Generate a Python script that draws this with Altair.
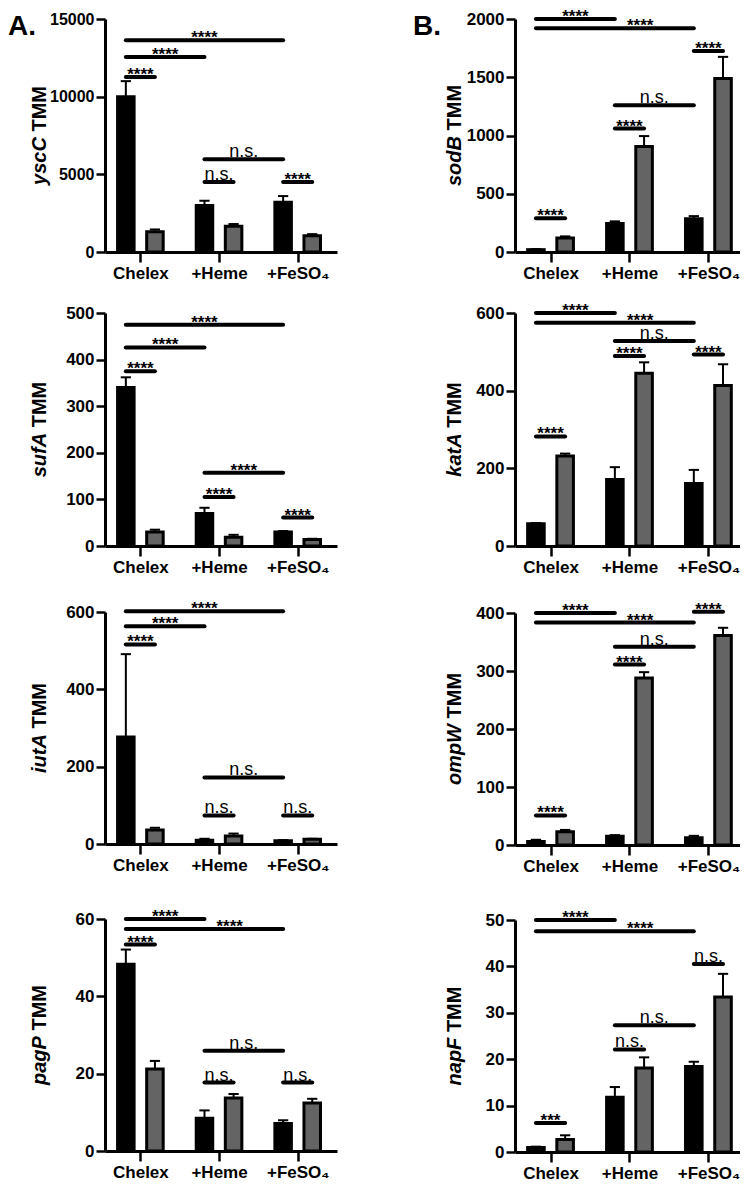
import json
import altair as alt
import pandas as pd

# ---------------- data ----------------
categories = ["Chelex", "+Heme", "+FeSO\u2084"]
bar_series = ["black", "gray"]

yscC_black = [10000, 3000, 3200]
yscC_black_err = [1000, 300, 400]
yscC_gray = [1300, 1650, 1050]
yscC_gray_err = [150, 150, 100]
yscC_sig_pairs = [(0, 0, 0, 1), (0, 0, 1, 0), (0, 0, 2, 0), (1, 0, 1, 1), (1, 0, 2, 0), (2, 0, 2, 1)]
yscC_sig_y = [11260, 12560, 13630, 4500, 5970, 4500]
yscC_sig_text = ["****", "****", "****", "n.s.", "n.s.", "****"]

sodB_black = [20, 245, 285]
sodB_black_err = [5, 18, 23]
sodB_gray = [120, 905, 1490]
sodB_gray_err = [14, 90, 185]
sodB_sig_pairs = [(0, 0, 0, 1), (1, 0, 1, 1), (1, 0, 2, 0), (2, 0, 2, 1), (0, 0, 1, 0), (0, 0, 2, 0)]
sodB_sig_y = [290, 1060, 1260, 1725, 2000, 1920]
sodB_sig_text = ["****", "****", "n.s.", "****", "****", "****"]

sufA_black = [340, 70, 30]
sufA_black_err = [22, 12, 2]
sufA_gray = [30, 19, 14]
sufA_gray_err = [5, 5, 1.5]
sufA_sig_pairs = [(0, 0, 0, 1), (0, 0, 1, 0), (0, 0, 2, 0), (1, 0, 1, 1), (1, 0, 2, 0), (2, 0, 2, 1)]
sufA_sig_y = [375, 426, 475, 105, 157, 61]
sufA_sig_text = ["****", "****", "****", "****", "****", "****"]

katA_black = [57, 171, 161]
katA_black_err = [2, 32, 35]
katA_gray = [232, 445, 413]
katA_gray_err = [6, 28, 55]
katA_sig_pairs = [(0, 0, 0, 1), (1, 0, 1, 1), (2, 0, 2, 1), (1, 0, 2, 0), (0, 0, 1, 0), (0, 0, 2, 0)]
katA_sig_y = [282, 489, 493, 528, 600, 575]
katA_sig_text = ["****", "****", "****", "n.s.", "****", "****"]

iutA_black = [277, 10, 8.5]
iutA_black_err = [214, 3.5, 1.5]
iutA_gray = [36.5, 21, 12]
iutA_gray_err = [5.5, 6, 1.5]
iutA_sig_pairs = [(0, 0, 0, 1), (0, 0, 1, 0), (0, 0, 2, 0), (1, 0, 1, 1), (1, 0, 2, 0), (2, 0, 2, 1)]
iutA_sig_y = [516, 563, 602, 74, 172, 74]
iutA_sig_text = ["****", "****", "****", "n.s.", "n.s.", "n.s."]

ompW_black = [6, 15, 12.5]
ompW_black_err = [3, 2, 3.3]
ompW_gray = [23, 288, 361]
ompW_gray_err = [3, 10, 13.5]
ompW_sig_pairs = [(0, 0, 0, 1), (1, 0, 1, 1), (1, 0, 2, 0), (2, 0, 2, 1), (0, 0, 1, 0), (0, 0, 2, 0)]
ompW_sig_y = [51, 311, 342, 402, 400, 383.5]
ompW_sig_text = ["****", "****", "n.s.", "****", "****", "****"]

pagP_black = [48.3, 8.5, 7.1]
pagP_black_err = [3.8, 2.0, 0.85]
pagP_gray = [21.2, 13.7, 12.4]
pagP_gray_err = [2.1, 1.05, 1.1]
pagP_sig_pairs = [(0, 0, 0, 1), (0, 0, 1, 0), (0, 0, 2, 0), (1, 0, 1, 1), (1, 0, 2, 0), (2, 0, 2, 1)]
pagP_sig_y = [53.4, 60, 57.4, 17.7, 25.9, 17.7]
pagP_sig_text = ["****", "****", "****", "n.s.", "n.s.", "n.s."]

napF_black = [0.95, 11.8, 18.4]
napF_black_err = [0.2, 2.2, 1.05]
napF_gray = [2.7, 18.1, 33.4]
napF_gray_err = [0.9, 2.3, 5.0]
napF_sig_pairs = [(0, 0, 0, 1), (0, 0, 1, 0), (0, 0, 2, 0), (1, 0, 1, 1), (1, 0, 2, 0), (2, 0, 2, 1)]
napF_sig_y = [6.25, 50, 47.6, 22.1, 27.3, 40.5]
napF_sig_text = ["***", "****", "****", "n.s.", "n.s.", "n.s."]

yscC_ticks = [0, 5000, 10000, 15000]
sodB_ticks = [0, 500, 1000, 1500, 2000]
sufA_ticks = [0, 100, 200, 300, 400, 500]
katA_ticks = [0, 200, 400, 600]
iutA_ticks = [0, 200, 400, 600]
ompW_ticks = [0, 100, 200, 300, 400]
pagP_ticks = [0, 20, 40, 60]
napF_ticks = [0, 10, 20, 30, 40, 50]

# ---------------- layout / style ----------------
FONT = "Liberation Sans"
BAR_OFF = [-0.185, 0.185]
BAR_HALF = 0.105
CAP_HALF = 0.065
X_MIN = -0.45
ROW_H = [233, 233, 232, 232]
GAP_12, GAP_34, OUTER_GAP = 61, 75, 25
LEFT_W, RIGHT_W = 232, 225
LEFT_XMAX, RIGHT_XMAX = 2.5, 2.4
SHIFTED_LONG_LABEL = {"sodB", "katA", "ompW", "pagP", "napF"}
LONG_SHIFT = 0.32
TITLE_FS = 20
BOLD_W = {'y': .556, 's': .556, 'c': .556, 'C': .722, 'o': .611, 'd': .611, 'B': .722,
          'u': .611, 'f': .333, 'A': .722, 'k': .556, 'a': .556, 't': .333, 'i': .278,
          'm': .889, 'p': .611, 'W': .944, 'g': .611, 'P': .667, 'n': .611, 'F': .611}
SPACE_W = 0.278 * TITLE_FS
TMM_W = 2.555 * TITLE_FS  # " TMM" including the word space

label_expr = json.dumps(categories) + "[datum.value]"


def panel(gene, black, black_err, gray, gray_err, pairs, sig_y, sig_text, ticks,
          width, height, xmax, title_dx, ylab_fs=17, letter=None):
    rows = []
    for g in range(3):
        for b, (vals, errs) in enumerate([(black, black_err), (gray, gray_err)]):
            pos = g + BAR_OFF[b]
            rows.append(dict(category=categories[g], series=bar_series[b], pos=pos,
                             left=pos - BAR_HALF, right=pos + BAR_HALF,
                             cap_l=pos - CAP_HALF, cap_r=pos + CAP_HALF,
                             value=vals[g], top=vals[g] + errs[g], base=0))
    bars = pd.DataFrame(rows)

    srows = []
    for (g1, b1, g2, b2), yv, lab in zip(pairs, sig_y, sig_text):
        x1 = g1 + BAR_OFF[b1]
        x2 = g2 + BAR_OFF[b2]
        tx = (x1 + x2) / 2
        if gene in SHIFTED_LONG_LABEL and (g1, b1, g2, b2) == (0, 0, 2, 0):
            tx += LONG_SHIFT
        srows.append(dict(x1=x1, x2=x2, tx=tx, y=yv, label=lab))
    sig = pd.DataFrame(srows)

    xs = alt.Scale(domain=[X_MIN, xmax], nice=False, zero=False)
    ys = alt.Scale(domain=[0, ticks[-1]], nice=False)
    xaxis = alt.Axis(values=[0, 1, 2], labelExpr=label_expr, title=None, grid=False,
                     domainWidth=3, domainColor="black", tickColor="black", tickWidth=2.5,
                     tickSize=10, labelFontSize=17, labelFontWeight="bold", labelColor="black",
                     labelPadding=3, labelFont=FONT, labelFlush=False)
    yaxis = alt.Axis(values=ticks, format="d", title=None, grid=False,
                     domainWidth=3, domainColor="black", tickColor="black", tickWidth=2.5,
                     tickSize=9, labelFontSize=ylab_fs, labelFontWeight="bold", labelColor="black",
                     labelPadding=2, labelFont=FONT)

    def X(f):
        return alt.X(f, type="quantitative", scale=xs, axis=xaxis)

    def Y(f):
        return alt.Y(f, type="quantitative", scale=ys, axis=yaxis)

    bar_layer = alt.Chart(bars).mark_rect(stroke="black", strokeWidth=3).encode(
        x=X("left"), x2=alt.X2("right"), y=Y("value"), y2=alt.Y2("base"),
        color=alt.Color("series:N", scale=alt.Scale(domain=bar_series, range=["#000000", "#646464"]),
                        legend=None))
    err_layer = alt.Chart(bars).mark_rule(color="black", strokeWidth=2).encode(
        x=X("pos"), y=Y("value"), y2=alt.Y2("top"))
    cap_layer = alt.Chart(bars).mark_rule(color="black", strokeWidth=2).encode(
        x=X("cap_l"), x2=alt.X2("cap_r"), y=Y("top"))
    line_layer = alt.Chart(sig).mark_rule(color="black", strokeWidth=4, strokeCap="round").encode(
        x=X("x1"), x2=alt.X2("x2"), y=Y("y"))
    star_layer = alt.Chart(sig).transform_filter("datum.label != 'n.s.'").mark_text(
        font=FONT, fontSize=17, fontWeight="bold", color="black", baseline="alphabetic", dy=3).encode(
        x=X("tx"), y=Y("y"), text="label:N")
    ns_layer = alt.Chart(sig).transform_filter("datum.label == 'n.s.'").mark_text(
        font=FONT, fontSize=18, color="black", baseline="alphabetic", dy=-2).encode(
        x=X("tx"), y=Y("y"), text="label:N")

    # rotated axis title: italic gene name + upright "TMM"
    wg = sum(BOLD_W.get(ch, 0.6) for ch in gene) * TITLE_FS
    junction = height / 2 - (wg - TMM_W) / 2
    t_gene = alt.Chart(pd.DataFrame({"t": [gene]})).mark_text(
        angle=270, align="right", baseline="middle", font=FONT, fontSize=TITLE_FS,
        fontWeight="bold", fontStyle="italic", color="black").encode(
        text="t:N", x=alt.value(title_dx), y=alt.value(junction))
    t_tmm = alt.Chart(pd.DataFrame({"t": ["TMM"]})).mark_text(
        angle=270, align="left", baseline="middle", font=FONT, fontSize=TITLE_FS,
        fontWeight="bold", color="black").encode(
        text="t:N", x=alt.value(title_dx), y=alt.value(junction - SPACE_W))

    layers = [bar_layer, err_layer, cap_layer, line_layer, star_layer, ns_layer, t_gene, t_tmm]
    if letter:
        lx = -97 if letter == "A." else -102
        layers.append(alt.Chart(pd.DataFrame({"t": [letter]})).mark_text(
            align="left", baseline="alphabetic", font=FONT, fontSize=28, fontWeight="bold",
            color="black").encode(text="t:N", x=alt.value(lx), y=alt.value(16)))
    return alt.layer(*layers).properties(width=width, height=height)


p_yscC = panel("yscC", yscC_black, yscC_black_err, yscC_gray, yscC_gray_err, yscC_sig_pairs,
               yscC_sig_y, yscC_sig_text, yscC_ticks, LEFT_W, ROW_H[0], LEFT_XMAX, -65, 16, "A.")
p_sufA = panel("sufA", sufA_black, sufA_black_err, sufA_gray, sufA_gray_err, sufA_sig_pairs,
               sufA_sig_y, sufA_sig_text, sufA_ticks, LEFT_W, ROW_H[1], LEFT_XMAX, -65)
p_iutA = panel("iutA", iutA_black, iutA_black_err, iutA_gray, iutA_gray_err, iutA_sig_pairs,
               iutA_sig_y, iutA_sig_text, iutA_ticks, LEFT_W, ROW_H[2], LEFT_XMAX, -65)
p_pagP = panel("pagP", pagP_black, pagP_black_err, pagP_gray, pagP_gray_err, pagP_sig_pairs,
               pagP_sig_y, pagP_sig_text, pagP_ticks, LEFT_W, ROW_H[3], LEFT_XMAX, -65)

p_sodB = panel("sodB", sodB_black, sodB_black_err, sodB_gray, sodB_gray_err, sodB_sig_pairs,
               sodB_sig_y, sodB_sig_text, sodB_ticks, RIGHT_W, ROW_H[0], RIGHT_XMAX, -60, 17, "B.")
p_katA = panel("katA", katA_black, katA_black_err, katA_gray, katA_gray_err, katA_sig_pairs,
               katA_sig_y, katA_sig_text, katA_ticks, RIGHT_W, ROW_H[1], RIGHT_XMAX, -60)
p_ompW = panel("ompW", ompW_black, ompW_black_err, ompW_gray, ompW_gray_err, ompW_sig_pairs,
               ompW_sig_y, ompW_sig_text, ompW_ticks, RIGHT_W, ROW_H[2], RIGHT_XMAX, -60)
p_napF = panel("napF", napF_black, napF_black_err, napF_gray, napF_gray_err, napF_sig_pairs,
               napF_sig_y, napF_sig_text, napF_ticks, RIGHT_W, ROW_H[3], RIGHT_XMAX, -60)


def column(a, b, c, d):
    top = alt.vconcat(a, b, spacing=GAP_12, bounds="flush")
    bottom = alt.vconcat(c, d, spacing=GAP_34, bounds="flush")
    return alt.vconcat(top, bottom, spacing=OUTER_GAP)


left_col = column(p_yscC, p_sufA, p_iutA, p_pagP)
right_col = column(p_sodB, p_katA, p_ompW, p_napF)

chart = (
    alt.hconcat(left_col, right_col, spacing=76)
    .properties(padding=0)
    .configure(font=FONT)
    .configure_view(strokeWidth=0)
)

chart.save("out.html", embed_options={"renderer": "svg", "actions": False})
